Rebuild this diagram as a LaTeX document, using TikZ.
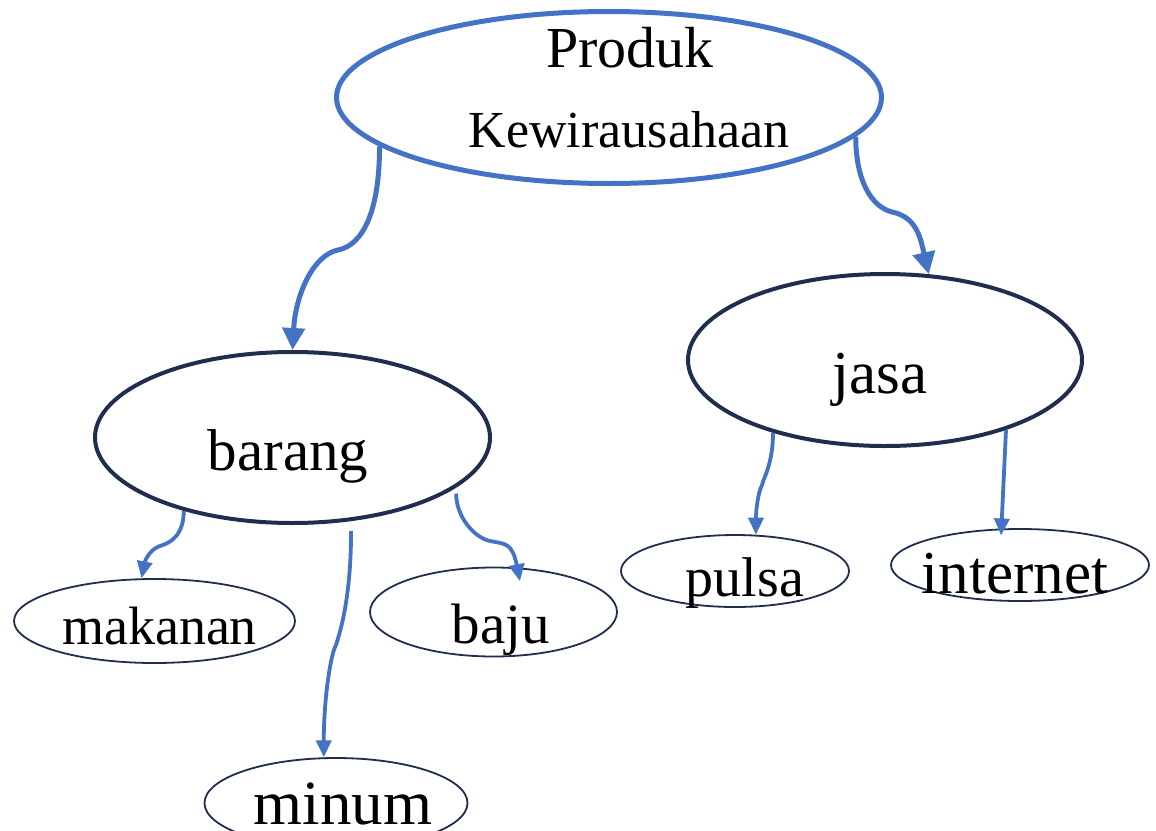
\documentclass[tikz,border=0pt]{standalone}
\usepackage{fontspec}
\setmainfont{Liberation Serif}
\usetikzlibrary{shapes.geometric,arrows.meta}
\definecolor{cblue}{HTML}{4472C4}
\definecolor{cnavy}{HTML}{1F2D4F}
\tikzset{
  ell/.style={ellipse, inner sep=0pt, fill=white},
  bigblue/.style={ell, draw=cblue, line width=5pt},
  bignavy/.style={ell, draw=cnavy, line width=4pt},
  smallnavy/.style={ell, draw=cnavy, line width=1.8pt},
  lbl/.style={anchor=base, inner sep=0pt, text=black},
  conbig/.style={draw=cblue, line width=5pt, -{Triangle[length=22pt,width=22pt]}},
  consmall/.style={draw=cblue, line width=3.8pt, -{Triangle[length=17pt,width=15pt]}},
}
\begin{document}
\begin{tikzpicture}[x=1pt,y=-1pt]
\useasboundingbox (0,0) rectangle (1156,830);
% ellipses
\node[bigblue, minimum width=545pt, minimum height=172pt] (top) at (609,97.5) {};
\node[bignavy, minimum width=395pt, minimum height=171pt] (barang) at (292.5,437.5) {};
\node[bignavy, minimum width=394pt, minimum height=172pt] (jasa) at (885,360) {};
\node[smallnavy, minimum width=281pt, minimum height=84pt] (makanan) at (154.5,621) {};
\node[smallnavy, minimum width=247pt, minimum height=89pt] (baju) at (493.5,612) {};
\node[smallnavy, minimum width=263pt, minimum height=90pt] (minum) at (336,803) {};
\node[smallnavy, minimum width=228pt, minimum height=72pt] (pulsa) at (735,571) {};
\node[smallnavy, minimum width=258pt, minimum height=72pt] (internet) at (1020,565) {};
% labels
\node[lbl, font=\fontsize{58}{58}\selectfont] (tProduk) at (630,67) {Produk};
\node[lbl, font=\fontsize{52}{52}\selectfont] (tKewira) at (629,147) {Kewirausahaan};
\node[lbl, font=\fontsize{59}{59}\selectfont] (tbarang) at (288,470) {barang};
\node[lbl, font=\fontsize{61}{61}\selectfont] (tjasa) at (880,393) {jasa};
\node[lbl, font=\fontsize{54}{54}\selectfont] (tmakanan) at (159.5,644) {makanan};
\node[lbl, font=\fontsize{57}{57}\selectfont] (tbaju) at (501,643) {baju};
\node[lbl, font=\fontsize{56}{56}\selectfont] (tpulsa) at (745,596) {pulsa};
\node[lbl, font=\fontsize{61}{61}\selectfont] (tinternet) at (1015,593) {internet};
\node[lbl, font=\fontsize{63}{63}\selectfont] (tminum) at (343,824) {minum};
% kink coordinates
\coordinate (k1) at (338,250);
\coordinate (k2) at (892,212);
\coordinate (k3) at (160,546);
\coordinate (k4) at (336,645);
\coordinate (k5) at (490,541);
\coordinate (k6) at (762,485);
% connectors
\draw[conbig] (top.192.5) .. controls +(0,65) and +(25,-5) .. (k1)
  .. controls +(-25,5) and +(3,-55) .. (barang.north);
\draw[conbig] (top.351) .. controls +(0,45) and +(-20,-5) .. (k2)
  .. controls +(25,5) and +(-8,-35) .. (jasa.63);
\draw[consmall] (barang.214) .. controls +(0,25) and +(10,-3) .. (k3)
  .. controls +(-12,4) and +(3,-15) .. (makanan.107);
\draw[consmall, shorten <=10pt] (barang.305) .. controls +(0,80) and +(3,-10) .. (k4)
  .. controls +(-5,8) and +(0,-60) .. (minum.105);
\draw[consmall, shorten <=6pt, shorten >=-14pt] (barang.343) .. controls +(0,30) and +(-15,-3) .. (k5)
  .. controls +(15,3) and +(-5,-25) .. (baju.62);
\draw[consmall] (jasa.213) .. controls +(0,30) and +(2,-8) .. (k6)
  .. controls +(-4,8) and +(0,-25) .. (pulsa.60);
\draw[consmall, shorten >=-7pt] (jasa.330) -- (internet.117);
\end{tikzpicture}
\end{document}
